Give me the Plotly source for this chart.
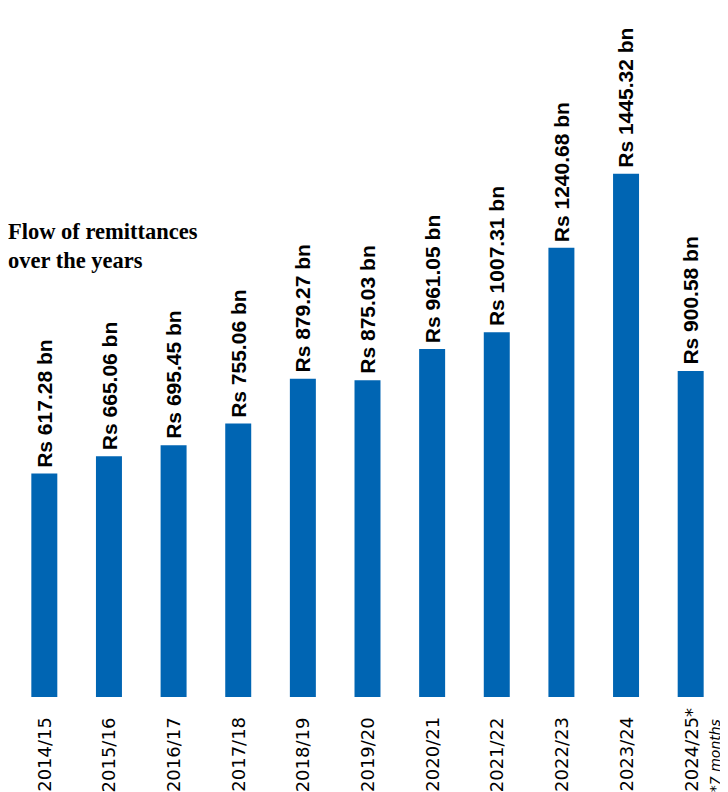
import plotly.graph_objects as go

years = ["2014/15", "2015/16", "2016/17", "2017/18", "2018/19", "2019/20",
         "2020/21", "2021/22", "2022/23", "2023/24", "2024/25*"]
remittances_bn = [617.28, 665.06, 695.45, 755.06, 879.27, 875.03,
                  961.05, 1007.31, 1240.68, 1445.32, 900.58]
title_text = "Flow of remittances<br>over the years"
footnote_text = "*7 months"

BAR_COLOR = "#0065B3"

# the page body adds an 8px margin, so the figure is 8px smaller than the window
W, H = 720, 784
MB = 95

fig = go.Figure()
fig.add_trace(go.Bar(
    x=years, y=remittances_bn,
    marker=dict(color=BAR_COLOR, line=dict(width=0)),
    hoverinfo="skip",
))

for yr, v in zip(years, remittances_bn):
    fig.add_annotation(
        x=yr, y=v, xref="x", yref="y",
        text=f"<b>Rs {v:.2f} bn</b>",
        textangle=-90, showarrow=False,
        xanchor="center", yanchor="bottom", yshift=4,
        font=dict(family="Liberation Sans, Arial, sans-serif", size=21, color="#000000"),
    )
    # category labels, reading upward from the bottom edge
    fig.add_annotation(
        x=yr, y=0, xref="x", yref="paper",
        text=yr, textangle=-90, showarrow=False,
        xanchor="center", yanchor="bottom", yshift=-MB - 2,
        font=dict(family="DejaVu Sans, sans-serif", size=18, color="#000000"),
    )

fig.add_annotation(
    x=years[-1], y=0, xref="x", yref="paper",
    text=f"<i>{footnote_text}</i>",
    textangle=-90, showarrow=False,
    xanchor="center", yanchor="bottom", xshift=24, yshift=-MB - 2,
    font=dict(family="DejaVu Sans, sans-serif", size=14, color="#000000"),
)

fig.update_layout(
    width=W, height=H,
    margin=dict(l=4, r=5, t=0, b=MB, pad=0, autoexpand=False),
    paper_bgcolor="white", plot_bgcolor="white",
    bargap=0.598,
    showlegend=False,
    title=dict(
        text=f"<b>{title_text}</b>",
        xref="container", yref="container",
        x=0.0, y=1 - 231 / H, xanchor="left", yanchor="top",
        font=dict(family="Liberation Serif, Times New Roman, serif", size=22.5, color="#000000"),
        pad=dict(l=0, t=0, b=0, r=0),
    ),
    xaxis=dict(
        type="category", range=[-0.5, 10.5], automargin=False,
        showticklabels=False, ticks="", showline=False, showgrid=False, zeroline=False,
    ),
    yaxis=dict(
        range=[0, 1903], visible=False, showgrid=False, zeroline=False, automargin=False,
    ),
)

fig.write_html("out.html")
